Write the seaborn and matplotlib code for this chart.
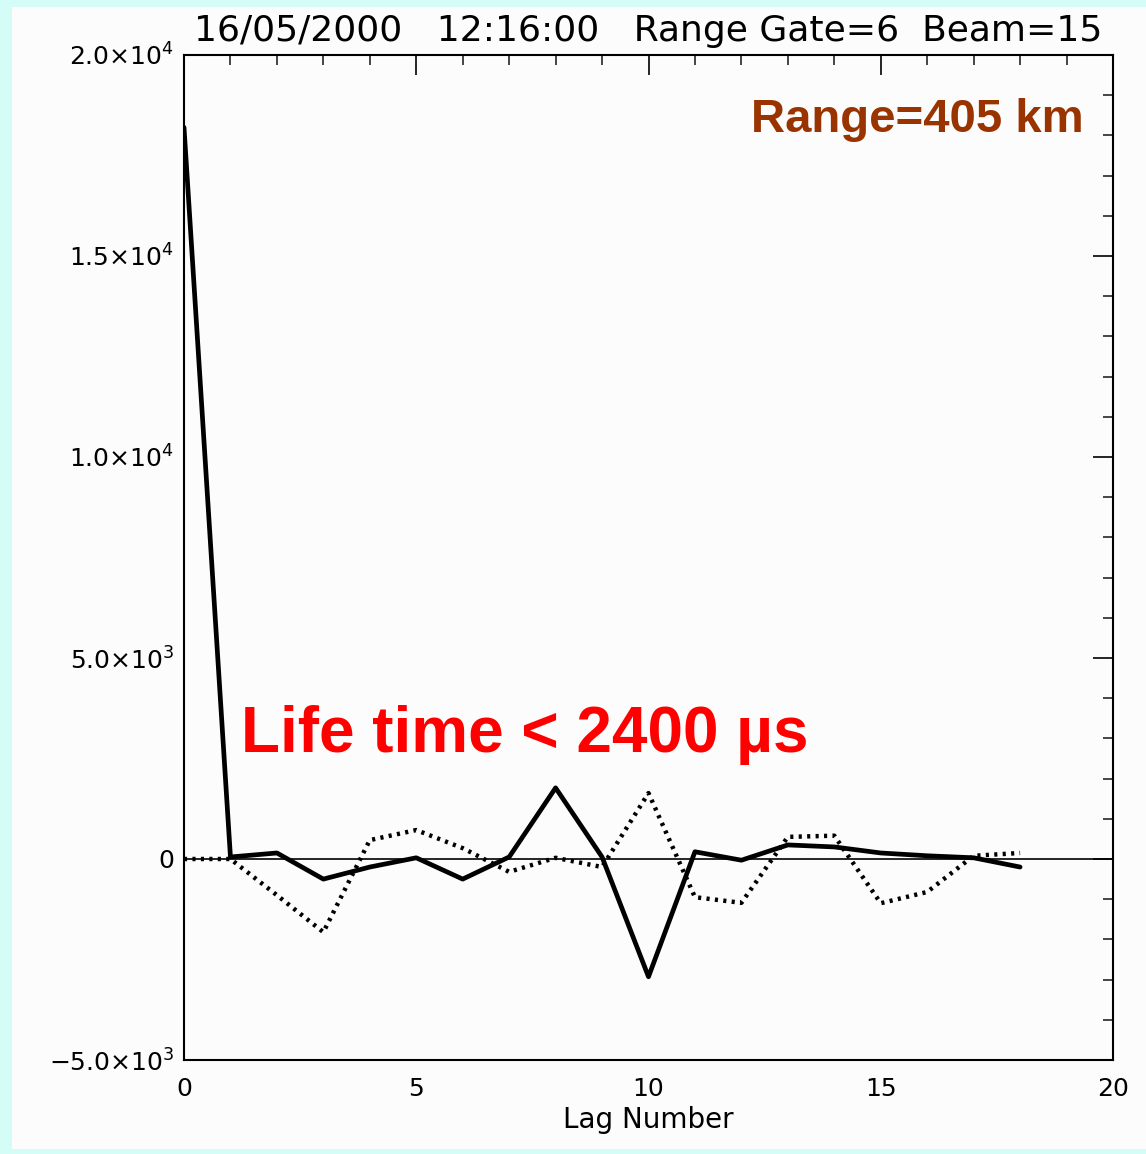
import numpy as np
import pandas as pd
import matplotlib
matplotlib.use("Agg")
import matplotlib.pyplot as plt
import seaborn as sns
from matplotlib.patches import Rectangle

# ---- data ----
lags = list(range(19))
acf_real = [18200, 50, 150, -500, -200, 30, -500, 50, 1770, 50, -2930,
            180, -30, 350, 300, 150, 80, 30, -200]
acf_imag = [0, 0, -900, -1820, 470, 720, 270, -320, 30, -200, 1640,
            -950, -1090, 550, 580, -1100, -820, 80, 150]
ytick_vals = [-5000, 0, 5000, 10000, 15000, 20000]
ytick_labels = [r"$-5.0{\times}10^{3}$", "0", r"$5.0{\times}10^{3}$",
                r"$1.0{\times}10^{4}$", r"$1.5{\times}10^{4}$", r"$2.0{\times}10^{4}$"]
xtick_vals = [0, 5, 10, 15, 20]
title_text = "16/05/2000   12:16:00   Range Gate=6  Beam=15"
xlabel_text = "Lag Number"
range_text = "Range=405 km"
life_text = "Life time < 2400 µs"

df = pd.DataFrame({"lag": lags, "real": acf_real, "imag": acf_imag})

sns.set_theme(style="white")
plt.rcParams["font.family"] = ["DejaVu Sans"]
plt.rcParams["mathtext.fontset"] = "dejavusans"

fig = plt.figure(figsize=(11.46, 11.54), dpi=100, facecolor="#d3fdf6")
bg = Rectangle((12 / 1146, 0.004), 1 - 12 / 1146, 1 - 7 / 1154 - 0.004,
               transform=fig.transFigure, facecolor="#fcfcfc",
               edgecolor="none", zorder=-10)
fig.add_artist(bg)
ax = fig.add_axes([184 / 1146, 1 - 1060 / 1154, (1113 - 184) / 1146, (1060 - 55) / 1154])
ax.set_zorder(5)
ax.set_facecolor("#fcfcfc")

ax.axhline(0, color="black", lw=1.2, zorder=1)
sns.lineplot(data=df, x="lag", y="imag", ax=ax, color="black", lw=3.2,
             linestyle=(0, (0.7, 1.2)), zorder=2)
sns.lineplot(data=df, x="lag", y="real", ax=ax, color="black", lw=3.4, zorder=3)

ax.set_xlim(0, 20)
ax.set_ylim(-5000, 20000)
ax.set_xticks(xtick_vals)
ax.set_xticks(range(0, 21), minor=True)
ax.set_yticks(ytick_vals)
ax.set_yticklabels(ytick_labels)
ax.set_yticks(range(-5000, 20001, 1000), minor=True)

for s in ax.spines.values():
    s.set_color("black")
    s.set_linewidth(1.5)

ax.tick_params(axis="both", which="major", direction="in", length=14.4, width=1.2,
               top=True, right=True, labelsize=18, colors="black", pad=7)
ax.tick_params(axis="both", which="minor", direction="in", length=7.2, width=1.2,
               top=True, right=True)
ax.tick_params(axis="x", which="major", pad=12)

ax.set_xlabel(xlabel_text, fontsize=20, color="black", labelpad=4)
ax.set_ylabel("")
ax.set_title(title_text, fontsize=26, color="black", pad=10)

ax.text(0.968, 0.935, range_text, transform=ax.transAxes, ha="right", va="center",
        fontsize=34, fontweight="bold", color="#993300", family="Liberation Sans")
ax.text(0.061, 0.323, life_text, transform=ax.transAxes, ha="left", va="center",
        fontsize=46, fontweight="bold", color="#ff0000", family="Liberation Sans")

fig.savefig("out.png", dpi=100, facecolor=fig.get_facecolor())
